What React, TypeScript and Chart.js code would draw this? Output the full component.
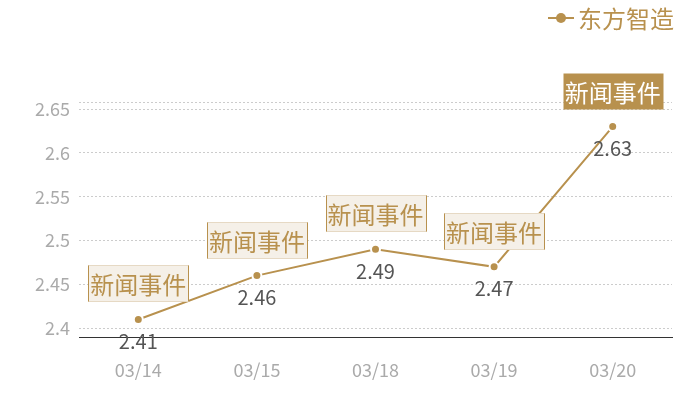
import { useEffect, useRef } from "react"
import { Chart, registerables } from "chart.js"

Chart.register(...registerables)

const seriesName = "东方智造"
const dates = ["03/14", "03/15", "03/18", "03/19", "03/20"]
const prices = [2.41, 2.46, 2.49, 2.47, 2.63]
const eventLabels = ["新闻事件", "新闻事件", "新闻事件", "新闻事件", "新闻事件"]
const yTicks = [2.4, 2.45, 2.5, 2.55, 2.6, 2.65]
const yTickLabels = ["2.4", "2.45", "2.5", "2.55", "2.6", "2.65"]

const GOLD = "#b8914e"
const FONT = "'Noto Sans CJK SC', 'Noto Sans', sans-serif"

// labels above / below each point and the legend at top right
const markPlugin = {
  id: "marks",
  afterDatasetsDraw(chart: Chart) {
    const ctx = chart.ctx
    const meta = chart.getDatasetMeta(0)
    ctx.save()
    meta.data.forEach((pt: any, i: number) => {
      const x = pt.x
      const y = pt.y
      // value under the point
      ctx.font = `20px ${FONT}`
      ctx.fillStyle = "#555555"
      ctx.textAlign = "center"
      ctx.textBaseline = "middle"
      ctx.fillText(String(prices[i]), x, y + 22)

      // event box above the point
      const last = i === prices.length - 1
      const w = 100
      const h = 36
      const bx = Math.round(x - w / 2) + 0.5
      const by = Math.round(y - 54) + 0.5
      ctx.fillStyle = last ? GOLD : "#f5f0e8"
      ctx.fillRect(bx, by, w, h)
      if (!last) {
        ctx.strokeStyle = "#e6d9c4"
        ctx.lineWidth = 1
        ctx.strokeRect(bx, by, w, h)
        ctx.strokeStyle = GOLD
        ctx.beginPath()
        ctx.moveTo(bx, by)
        ctx.lineTo(bx, by + h)
        ctx.moveTo(bx + w, by)
        ctx.lineTo(bx + w, by + h)
        ctx.stroke()
      }
      ctx.font = `24px ${FONT}`
      ctx.fillStyle = last ? "#ffffff" : GOLD
      ctx.fillText(eventLabels[i], x, by + h / 2 + 1)
    })

    // legend
    ctx.strokeStyle = GOLD
    ctx.lineWidth = 2
    ctx.beginPath()
    ctx.moveTo(548, 18)
    ctx.lineTo(574, 18)
    ctx.stroke()
    ctx.fillStyle = GOLD
    ctx.beginPath()
    ctx.arc(561, 18, 5, 0, Math.PI * 2)
    ctx.fill()
    ctx.font = `24px ${FONT}`
    ctx.textAlign = "left"
    ctx.textBaseline = "middle"
    ctx.fillText(seriesName, 578, 19)
    ctx.restore()
  },
}

export default function App() {
  const chartRef = useRef<HTMLCanvasElement>(null)
  const chartInstance = useRef<Chart | null>(null)

  useEffect(() => {
    if (!chartRef.current) return
    if (chartInstance.current) chartInstance.current.destroy()
    const ctx = chartRef.current.getContext("2d")
    if (!ctx) return

    chartInstance.current = new Chart(ctx, {
      type: "line",
      data: {
        labels: dates,
        datasets: [
          {
            label: seriesName,
            data: prices,
            borderColor: GOLD,
            borderWidth: 2,
            backgroundColor: GOLD,
            pointRadius: 4.5,
            pointBorderColor: "#ffffff",
            pointBorderWidth: 2,
            tension: 0,
          },
        ],
      },
      plugins: [markPlugin],
      options: {
        responsive: true,
        maintainAspectRatio: false,
        animation: false,
        layout: { padding: { top: 102, right: 28, left: 0, bottom: 0 } },
        scales: {
          x: {
            offset: true,
            afterFit: (s: any) => {
              s.height = 63
            },
            grid: { display: false, drawTicks: false },
            border: { display: true, color: "#333333", width: 1 },
            ticks: {
              color: "#aaaaaa",
              padding: 22,
              font: { family: FONT, size: 18 },
            },
          },
          y: {
            min: 2.39,
            max: 2.658,
            afterFit: (s: any) => {
              s.width = 79
            },
            afterBuildTicks: (s: any) => {
              s.ticks = [...yTicks, 2.658].map((v) => ({ value: v }))
            },
            grid: {
              color: "#cccccc",
              drawTicks: false,
              lineWidth: 1,
            },
            border: { display: false, dash: [2, 2] },
            ticks: {
              color: "#aaaaaa",
              padding: 9,
              font: { family: FONT, size: 18 },
              callback: (value: any) => {
                const idx = yTicks.findIndex((t) => Math.abs(t - Number(value)) < 1e-6)
                return idx >= 0 ? yTickLabels[idx] : ""
              },
            },
          },
        },
        plugins: {
          legend: { display: false },
          tooltip: { enabled: false },
        },
      },
    })

    return () => {
      if (chartInstance.current) {
        chartInstance.current.destroy()
        chartInstance.current = null
      }
    }
  }, [])

  return (
    <div style={{ position: "fixed", left: 0, top: 0, width: 700, height: 400, background: "#ffffff" }}>
      <canvas ref={chartRef} />
    </div>
  )
}
